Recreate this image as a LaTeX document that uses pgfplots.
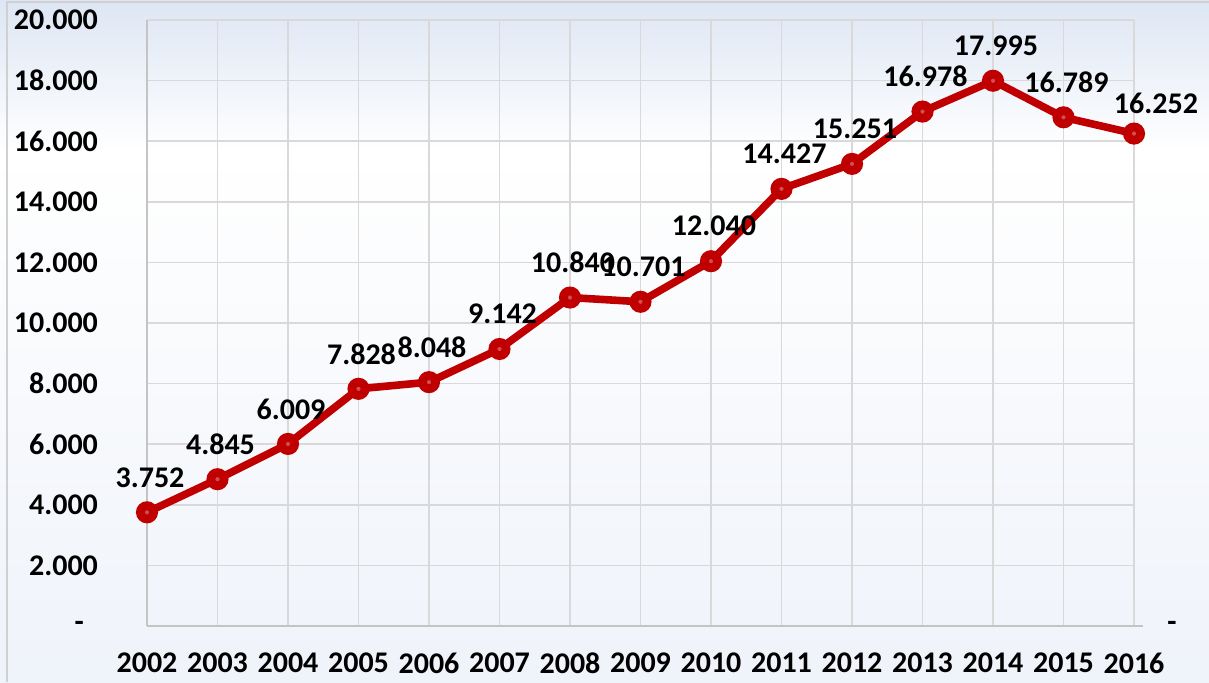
\documentclass[border=0pt]{standalone}
\usepackage{fontspec}
\setmainfont{Carlito}
\usepackage{pgfplots}
\usepackage{pgfplotstable}
\pgfplotsset{compat=1.18}
\definecolor{lineRed}{HTML}{C00000}
\definecolor{dotRed}{HTML}{D05050}
\definecolor{gridGray}{HTML}{D9D9D9}
\definecolor{axisGray}{HTML}{C4C4C4}
\definecolor{bgTop}{HTML}{DDE6F4}
\definecolor{bgBot}{HTML}{EFF3FA}
\pgfplotstableread{
year value label dx dy
2002 3752 3.752 1.5 17.5
2003 4845 4.845 1.5 17.5
2004 6009 6.009 1.5 17.5
2005 7828 7.828 1.5 17.5
2006 8048 8.048 1.5 17.5
2007 9142 9.142 1.5 17.5
2008 10840 10.840 1.5 17.5
2009 10701 10.701 1.5 17.5
2010 12040 12.040 1.5 17.5
2011 14427 14.427 1.5 17.5
2012 15251 15.251 1.5 17.5
2013 16978 16.978 1.5 17.5
2014 17995 17.995 1.5 17.5
2015 16789 16.789 1.5 17.5
2016 16252 16.252 11 15
}\datatable
\begin{document}
\begin{tikzpicture}
\useasboundingbox (0,0) rectangle (604.5pt,341pt);
\shade[top color=bgTop, bottom color=white] (0,266pt) rectangle (604.5pt,341pt);
\shade[top color=white, bottom color=bgBot] (0,0) rectangle (604.5pt,266.2pt);
\draw[color=axisGray!80, line width=0.8pt] (3.5pt,0) -- (3.5pt,340pt) -- (604.5pt,340pt);
\begin{axis}[
  name=ax,
  at={(73.5pt,28pt)}, anchor=south west,
  scale only axis, width=493.5pt, height=303pt,
  xmin=2002, xmax=2016, ymin=0, ymax=20000,
  scaled y ticks=false, scaled x ticks=false,
  xtick={2002,2003,2004,2005,2006,2007,2008,2009,2010,2011,2012,2013,2014,2015,2016},
  xticklabels={2002,2003,2004,2005,2006,2007,2008,2009,2010,2011,2012,2013,2014,2015,2016},
  ytick={0,2000,4000,6000,8000,10000,12000,14000,16000,18000,20000},
  yticklabels={{-\kern7pt},2.000,4.000,6.000,8.000,10.000,12.000,14.000,16.000,18.000,20.000},
  grid=major,
  major grid style={draw=gridGray, line width=0.8pt},
  axis x line*=bottom, axis y line*=left,
  axis line style={draw=axisGray, line width=0.9pt, -},
  major tick length=0pt,
  tick label style={font=\bfseries\fontsize{15}{17}\selectfont, text=black},
  yticklabel style={anchor=east, xshift=-21pt},
  xticklabel style={anchor=north, yshift=-10pt},
  clip=false,
]
\addplot[
  color=lineRed, line width=3.8pt,
  mark=*, mark size=3.3pt,
  mark options={draw=lineRed, fill=dotRed, line width=4.4pt},
  point meta=explicit symbolic,
  visualization depends on={\thisrow{dx} \as \dx},
  visualization depends on={\thisrow{dy} \as \dy},
  nodes near coords,
  nodes near coords style={anchor=center, xshift=\dx pt, yshift=\dy pt,
    font=\bfseries\fontsize{15}{17}\selectfont, text=black, inner sep=0pt},
] table[x=year, y=value, meta=label] {\datatable};
\end{axis}
\draw[draw=axisGray, line width=0.9pt] (ax.south east) -- ++(4.5pt,0);
\node[font=\bfseries\fontsize{15}{17}\selectfont, text=black] at ([xshift=19pt]ax.south east) {-};
\end{tikzpicture}
\end{document}
